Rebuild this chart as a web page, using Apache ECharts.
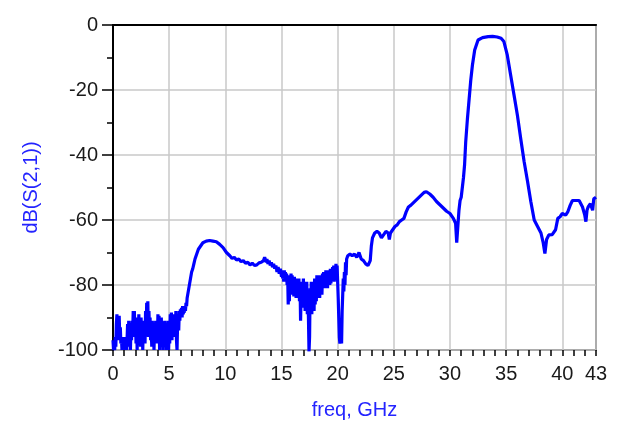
<!DOCTYPE html>
<html>
<head>
    <meta charset="utf-8">
    <title>dB(S(2,1))</title>
    <script src="https://cdn.jsdelivr.net/npm/echarts@6/dist/echarts.min.js"></script>
    <style>
        html, body { margin: 0; padding: 0; background: #fff; }
    </style>
</head>
<body>
<div id="main" style="width: 630px;height:436px;"></div>
<script type="text/javascript">
    // frequency points, GHz
    var freqGHz = [
        // 0 - 6.65 GHz, noisy floor (0.05 GHz steps)
        0.00, 0.05, 0.10, 0.15, 0.20, 0.25, 0.30, 0.35, 0.40, 0.45, 0.50, 0.55, 0.60, 0.65, 0.70, 0.75, 0.80, 0.85, 0.90, 0.95,
        1.00, 1.05, 1.10, 1.15, 1.20, 1.25, 1.30, 1.35, 1.40, 1.45, 1.50, 1.55, 1.60, 1.65, 1.70, 1.75, 1.80, 1.85, 1.90, 1.95,
        2.00, 2.05, 2.10, 2.15, 2.20, 2.25, 2.30, 2.35, 2.40, 2.45, 2.50, 2.55, 2.60, 2.65, 2.70, 2.75, 2.80, 2.85, 2.90, 2.95,
        3.00, 3.05, 3.10, 3.15, 3.20, 3.25, 3.30, 3.35, 3.40, 3.45, 3.50, 3.55, 3.60, 3.65, 3.70, 3.75, 3.80, 3.85, 3.90, 3.95,
        4.00, 4.05, 4.10, 4.15, 4.20, 4.25, 4.30, 4.35, 4.40, 4.45, 4.50, 4.55, 4.60, 4.65, 4.70, 4.75, 4.80, 4.85, 4.90, 4.95,
        5.00, 5.05, 5.10, 5.15, 5.20, 5.25, 5.30, 5.35, 5.40, 5.45, 5.50, 5.55, 5.60, 5.65, 5.70, 5.75, 5.80, 5.85, 5.90, 5.95,
        6.00, 6.05, 6.10, 6.15, 6.20, 6.25, 6.30, 6.35, 6.40, 6.45, 6.50, 6.55, 6.60,
        // 6.7 - 13 GHz, first hump
        6.7, 6.8, 6.9, 7.0, 7.1, 7.2, 7.3, 7.4, 7.5, 7.6, 7.8, 8.0, 8.3, 8.6, 8.9, 9.2, 9.5, 9.8, 10.1, 10.4,
        10.6, 10.8, 11.0, 11.2, 11.4, 11.6, 11.8, 12.0, 12.2, 12.4, 12.6, 12.8, 13.0,
        // 13.2 - 21 GHz, noisy (0.05 GHz steps)
        13.2, 13.4, 13.5, 13.6, 13.65, 13.7, 13.8, 13.9, 14.0, 14.1, 14.2, 14.3, 14.4, 14.5, 14.6, 14.7, 14.8, 14.9,
        15.00, 15.05, 15.10, 15.15, 15.20, 15.25, 15.30, 15.35, 15.40, 15.45, 15.50, 15.55, 15.60, 15.65, 15.70, 15.75, 15.80, 15.85, 15.90, 15.95,
        16.00, 16.05, 16.10, 16.15, 16.20, 16.25, 16.30, 16.35, 16.40, 16.45, 16.50, 16.55, 16.60, 16.65, 16.70, 16.75, 16.80, 16.85, 16.90, 16.95,
        17.00, 17.05, 17.10, 17.15, 17.20, 17.25, 17.30, 17.35, 17.40, 17.45, 17.50, 17.55, 17.60, 17.65, 17.70, 17.75, 17.80, 17.85, 17.90, 17.95,
        18.00, 18.05, 18.10, 18.15, 18.20, 18.25, 18.30, 18.35, 18.40, 18.45, 18.50, 18.55, 18.60, 18.65, 18.70, 18.75, 18.80, 18.85, 18.90, 18.95,
        19.00, 19.05, 19.10, 19.15, 19.20, 19.25, 19.30, 19.35, 19.40, 19.45, 19.50, 19.55, 19.60, 19.65, 19.70, 19.75, 19.80, 19.85, 19.90, 19.95,
        20.00, 20.05, 20.10, 20.15, 20.20, 20.25, 20.30, 20.35, 20.40, 20.45, 20.50, 20.55, 20.60, 20.65, 20.70, 20.75, 20.80, 20.90,
        // 21 - 30.9 GHz, rising slope and second hump
        21.0, 21.1, 21.3, 21.5, 21.7, 21.9, 22.1, 22.3, 22.5, 22.7, 22.9, 23.0, 23.1, 23.3, 23.5, 23.7, 23.9, 24.1, 24.3, 24.5,
        24.6, 24.7, 24.9, 25.1, 25.3, 25.5, 25.7, 25.9, 26.1, 26.3, 26.5, 26.8, 27.1, 27.4, 27.7, 27.9, 28.2, 28.5, 28.8, 29.1,
        29.4, 29.7, 30.0, 30.3, 30.5, 30.6, 30.7, 30.8, 30.9,
        // 31 - 43 GHz, passband and upper skirt
        31.0, 31.2, 31.3, 31.4, 31.55, 31.7, 31.85, 32.0, 32.2, 32.5, 32.9, 33.4, 33.8, 34.2, 34.55, 34.8, 35.1, 35.4, 35.7, 36.0,
        36.3, 36.6, 36.9, 37.2, 37.5, 37.8, 38.1, 38.3, 38.45, 38.6, 38.8, 39.1, 39.4, 39.6, 39.8, 40.0, 40.3, 40.5, 40.7, 40.9,
        41.2, 41.5, 41.8, 42.0, 42.1, 42.2, 42.3, 42.5, 42.7, 42.8, 43.0
    ];
    // dB(S(2,1))
    var s21dB = [
        -97, -100, -98, -100, -96, -99, -92, -89, -97, -90, -95, -89.5, -96, -93, -98, -96, -100, -97, -99, -96,
        -100, -97, -99, -96, -100, -97, -92, -99, -91, -98, -92, -100, -93, -97, -91, -95, -88, -96, -88, -94,
        -90, -98, -90, -100, -91, -96, -89, -97, -91, -99, -90, -95, -92, -100, -91, -96, -93, -98, -88, -95,
        -85.5, -93, -85, -96, -88, -94, -90, -97, -92, -99, -91, -96, -93, -100, -92, -97, -91, -95, -92, -98,
        -89, -96, -89.5, -100, -91, -97, -90, -99, -92, -100, -93, -98, -91, -96, -92, -100, -93, -97, -91, -100,
        -94, -98, -89, -95, -88.5, -97, -90, -94, -89, -96, -90, -93, -88, -97, -100, -92, -89, -94, -88, -91,
        -87.5, -90, -87, -90, -86.5, -89, -87, -88.5, -86.5, -88, -85.5, -86.5, -84,
        -82, -80, -78, -76, -75, -73.5, -72, -71, -70, -69, -68, -67, -66.5, -66.3, -66.5, -66.7, -67.5, -68.5, -70, -71,
        -71.8, -71.5, -72.3, -72, -72.8, -72.5, -73.3, -73, -73.8, -73.3, -74, -73.8, -73.2,
        -73, -72.5, -71.5, -71.3, -73, -72, -73.5, -72.5, -74, -73, -74.5, -73.5, -75, -74, -76, -74.5, -76.5, -75,
        -77.5, -75.5, -78, -76, -79, -75.5, -78.5, -76, -79, -76.5, -80, -77, -86, -78, -85, -77, -80, -76.5, -81, -77,
        -83, -78, -83.5, -77.5, -82, -79, -84, -78, -83, -79, -84, -78, -85, -79, -91, -82, -86, -79, -87, -78,
        -86, -79, -88, -80, -87, -79, -89, -82, -90, -100.5, -96, -81, -88, -79, -89, -80, -87, -79, -88, -78,
        -86, -79, -85, -77, -84, -78, -83, -77, -84, -78, -82, -77, -83, -76.5, -81, -76, -80, -76.5, -81, -75.5,
        -79, -76, -81, -75.5, -79, -76, -80, -75, -79.5, -75.5, -78, -74.5, -78, -74, -79, -74, -78, -73.5, -77, -74,
        -79, -84, -90, -96, -98, -97, -92, -98, -88, -83, -78, -82, -76, -80, -73, -77, -72, -71,
        -71.5, -70.5, -71, -70.5, -71.5, -70, -72, -72.5, -73.5, -74, -72.5, -68, -65.5, -64, -63.5, -64, -65.5, -64.5, -63.5, -64,
        -66, -64, -63, -62, -61.5, -60.5, -60, -59.5, -57.5, -56, -55.5, -54.5, -53.5, -52.5, -51.5, -51.3, -52, -53, -54.3, -55.3,
        -56.3, -57.3, -58, -59.5, -61, -67, -62, -57, -54,
        -53, -47, -43, -36, -29, -23, -17, -12.3, -7.7, -4.6, -3.9, -3.6, -3.5, -3.7, -4.1, -5.1, -9.2, -15.4, -21.5, -27.7,
        -35, -42, -48, -54.4, -60, -62, -64, -67, -70.3, -66, -64.6, -64.5, -63, -59.5, -59, -58, -58.5, -57.4, -55.5, -54,
        -54, -54, -56, -58.5, -60.5, -57, -56, -55, -57, -53.5, -53
    ];
    // axis settings
    var xMin = 0, xMax = 43, xStep = 5;
    var yMin = -100, yMax = 0, yStep = 20;

    var seriesData = [];
    for (var i = 0; i < freqGHz.length; i++) {
        seriesData.push([freqGHz[i], s21dB[i]]);
    }

    var myChart = echarts.init(document.getElementById('main'));
    var font = 'Liberation Sans, Arial, sans-serif';

    var option = {
        animation: false,
        backgroundColor: '#fff',
        grid: {
            left: 113, right: 34, top: 25, bottom: 86,
            show: true,
            borderColor: '#222',
            borderWidth: 1.5,
            backgroundColor: 'transparent'
        },
        xAxis: [
            {
                type: 'value',
                min: xMin, max: xMax, interval: xStep,
                position: 'bottom',
                name: 'freq, GHz',
                nameLocation: 'middle',
                nameGap: 50,
                nameTextStyle: { color: '#2424ff', fontSize: 20, fontFamily: font },
                axisLine: { show: true, lineStyle: { color: '#000', width: 2 } },
                axisTick: { show: false },
                axisLabel: {
                    color: '#1a1a1a', fontSize: 20, fontFamily: font, margin: 14,
                    showMinLabel: true, showMaxLabel: true
                },
                splitLine: { show: true, lineStyle: { color: '#c8c8c8', width: 1.5 } }
            },
            {
                // 1 GHz tick marks along the bottom
                type: 'value',
                min: xMin, max: xMax, interval: 1,
                position: 'bottom',
                axisLine: { show: false },
                axisTick: { show: true, length: 6, lineStyle: { color: '#000', width: 1.5 } },
                axisLabel: { show: false },
                splitLine: { show: false }
            }
        ],
        yAxis: {
            type: 'value',
            min: yMin, max: yMax, interval: yStep,
            name: 'dB(S(2,1))',
            nameLocation: 'middle',
            nameRotate: 90,
            nameGap: 72,
            nameTextStyle: { color: '#2424ff', fontSize: 20, fontFamily: font },
            axisLine: { show: true, lineStyle: { color: '#000', width: 2 } },
            axisTick: { show: true, length: 11, lineStyle: { color: '#000', width: 1.5 } },
            minorTick: { show: true, splitNumber: 2, length: 6, lineStyle: { color: '#000', width: 1.5 } },
            axisLabel: { color: '#1a1a1a', fontSize: 20, fontFamily: font, margin: 15 },
            splitLine: { show: true, lineStyle: { color: '#c8c8c8', width: 1.5 } }
        },
        series: [{
            name: 'dB(S(2,1))',
            type: 'line',
            data: seriesData,
            showSymbol: false,
            lineStyle: { color: '#0000ff', width: 3.2 },
            itemStyle: { color: '#0000ff' }
        }]
    };

    myChart.setOption(option);
</script>
</body>
</html>
